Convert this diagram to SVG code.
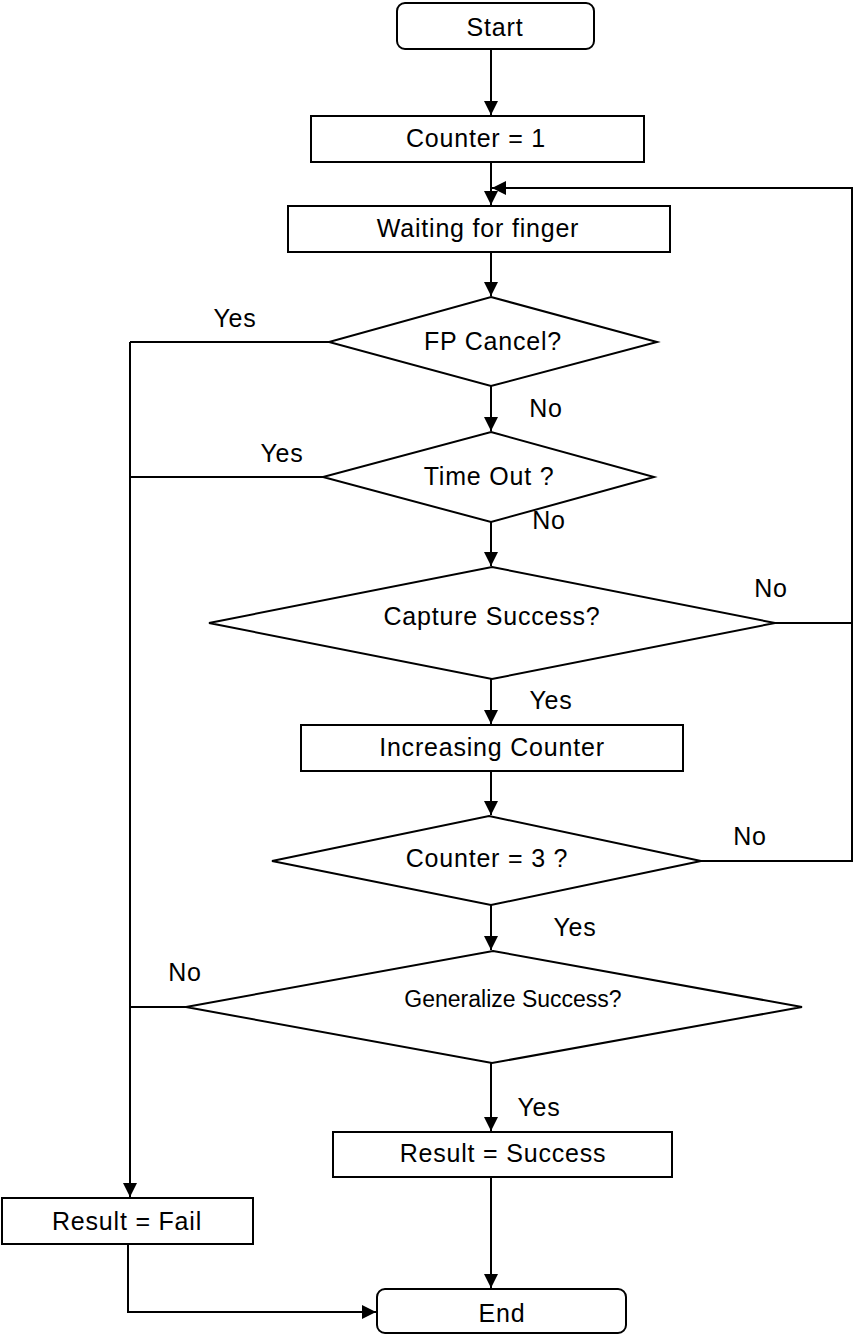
<svg xmlns="http://www.w3.org/2000/svg" width="853" height="1334" viewBox="0 0 853 1334">
<style>
.s{fill:#fff;stroke:#000;stroke-width:2}
.t{font-family:"Liberation Sans",Arial,sans-serif;font-size:25px;fill:#000;text-anchor:middle;letter-spacing:0.8px}
.g{font-size:23px;letter-spacing:0}
.c{fill:none;stroke:#000;stroke-width:2}
</style>
<defs>
<marker id="a" markerUnits="userSpaceOnUse" markerWidth="15" markerHeight="15" refX="14" refY="7.5" orient="auto">
<path d="M0,0.5 L14,7.5 L0,14.5 z" fill="#000"/>
</marker>
</defs>
<rect width="853" height="1334" fill="#fff"/>
<g id="connectors">
<path class="c" d="M491,49 V115" marker-end="url(#a)"/>
<path class="c" d="M491,162 V205" marker-end="url(#a)"/>
<path class="c" d="M491,252 V296" marker-end="url(#a)"/>
<path class="c" d="M491,386 V431" marker-end="url(#a)"/>
<path class="c" d="M491,522 V566" marker-end="url(#a)"/>
<path class="c" d="M491,679 V724" marker-end="url(#a)"/>
<path class="c" d="M491,771 V815" marker-end="url(#a)"/>
<path class="c" d="M491,905 V950" marker-end="url(#a)"/>
<path class="c" d="M491,1063 V1131" marker-end="url(#a)"/>
<path class="c" d="M491,1177 V1288" marker-end="url(#a)"/>
<path class="c" d="M775,623 H852 M701,861 H852 V188 H492" marker-end="url(#a)"/>
<path class="c" d="M329,342 H130 M323,477 H130 M186,1007 H130 M130,342 V1197" marker-end="url(#a)"/>
<path class="c" d="M128,1244 V1312 H376" marker-end="url(#a)"/>
</g>
<g id="start"><rect class="s" x="397" y="3" width="197" height="46" rx="8"/><text class="t" x="495" y="36">Start</text></g>
<g id="counter1"><rect class="s" x="311" y="116" width="333" height="46"/><text class="t" x="476" y="147">Counter = 1</text></g>
<g id="waiting"><rect class="s" x="288" y="206" width="382" height="46"/><text class="t" x="478" y="237">Waiting for finger</text></g>
<g id="fpcancel"><polygon class="s" points="491,297 657,342 491,386 329,342"/><text class="t" x="493" y="350">FP Cancel?</text></g>
<g id="timeout"><polygon class="s" points="491,432 654,477 491,522 323,477"/><text class="t" x="489" y="485">Time Out ?</text></g>
<g id="capture"><polygon class="s" points="492,567 775,623 492,679 209,623"/><text class="t" x="492" y="625">Capture Success?</text></g>
<g id="increasing"><rect class="s" x="301" y="725" width="382" height="46"/><text class="t" x="492" y="756">Increasing Counter</text></g>
<g id="counter3"><polygon class="s" points="489,816 701,861 491,905 272,861"/><text class="t" x="487" y="867">Counter = 3 ?</text></g>
<g id="generalize"><polygon class="s" points="493,951 802,1007 492,1063 186,1007"/><text class="t g" x="513" y="1007">Generalize Success?</text></g>
<g id="success"><rect class="s" x="333" y="1132" width="339" height="45"/><text class="t" x="503" y="1162">Result = Success</text></g>
<g id="fail"><rect class="s" x="2" y="1198" width="251" height="46"/><text class="t" x="127" y="1230">Result = Fail</text></g>
<g id="end"><rect class="s" x="377" y="1289" width="249" height="44" rx="8"/><text class="t" x="502" y="1322">End</text></g>
<g id="labels">
<text class="t" x="235" y="327">Yes</text>
<text class="t" x="546" y="417">No</text>
<text class="t" x="282" y="462">Yes</text>
<text class="t" x="549" y="529">No</text>
<text class="t" x="771" y="597">No</text>
<text class="t" x="551" y="709">Yes</text>
<text class="t" x="750" y="845">No</text>
<text class="t" x="575" y="936">Yes</text>
<text class="t" x="185" y="981">No</text>
<text class="t" x="539" y="1116">Yes</text>
</g>
</svg>
